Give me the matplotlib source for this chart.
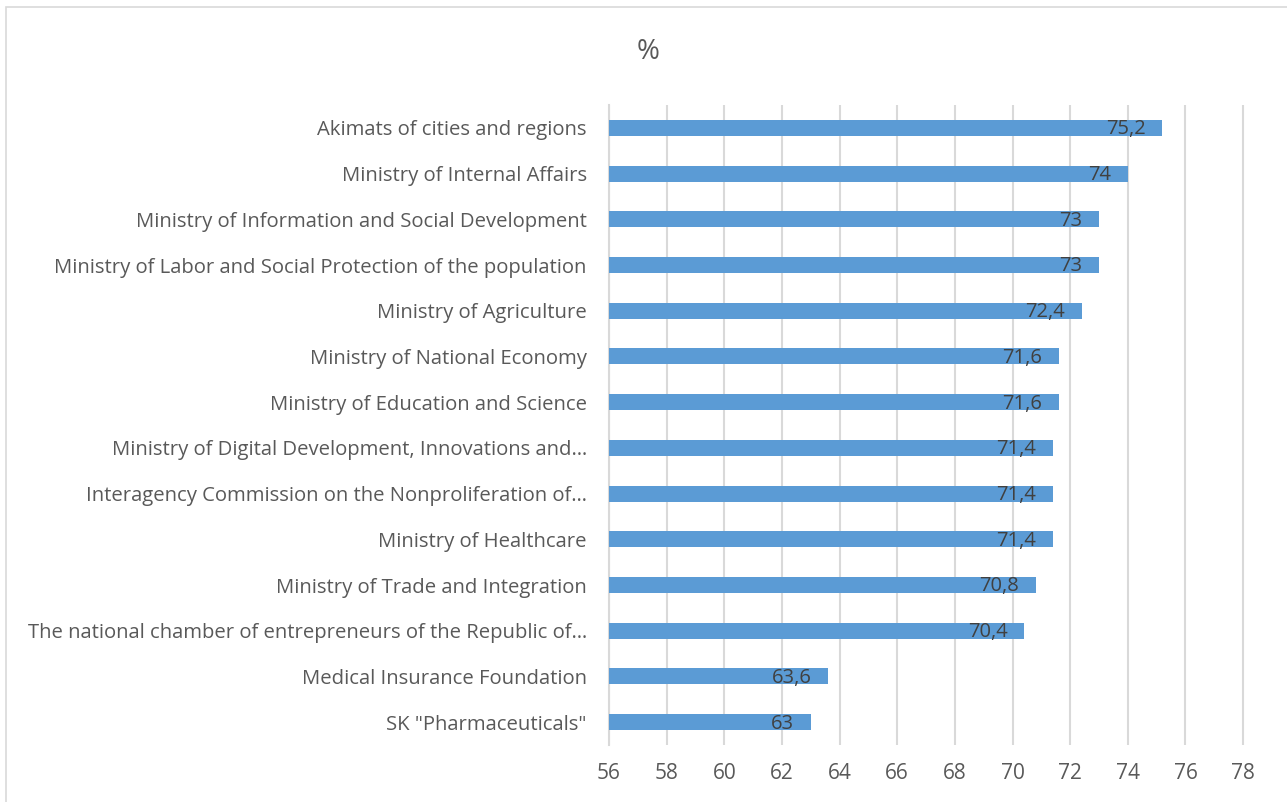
import matplotlib
matplotlib.use("Agg")
import matplotlib.pyplot as plt
from matplotlib.patches import Rectangle

categories = [
    "Akimats of cities and regions",
    "Ministry of Internal Affairs",
    "Ministry of Information and Social Development",
    "Ministry of Labor and Social Protection of the population",
    "Ministry of Agriculture",
    "Ministry of National Economy",
    "Ministry of Education and Science",
    "Ministry of Digital Development, Innovations and\u2026",
    "Interagency Commission on the Nonproliferation of\u2026",
    "Ministry of Healthcare",
    "Ministry of Trade and Integration",
    "The national chamber of entrepreneurs of the Republic of\u2026",
    "Medical Insurance Foundation",
    'SK "Pharmaceuticals"',
]
values = [75.2, 74, 73, 73, 72.4, 71.6, 71.6, 71.4, 71.4, 71.4, 70.8, 70.4, 63.6, 63]
xticks = list(range(56, 79, 2))

plt.rcParams['font.family'] = ['Open Sans', 'DejaVu Sans']

fig = plt.figure(figsize=(12.87, 8.02), dpi=100)
# chart border
fig.patches.append(Rectangle((6 / 1287, -0.01), 1.02, 1 - 7 / 802 + 0.01,
                             transform=fig.transFigure, fill=False,
                             edgecolor="#d9d9d9", linewidth=1.2))

ax = fig.add_axes([609 / 1287, 57 / 802, 637 / 1287, 640 / 802])
ypos = list(range(len(categories)))
ax.barh(ypos, [v - 56 for v in values], left=56, height=0.35, color="#5b9bd5", zorder=3)

for y, v in zip(ypos, values):
    ax.annotate(f"{v:g}".replace(".", ","), xy=(v, y), xytext=(-12, -1),
                textcoords="offset points", ha="right", va="center",
                fontsize=14.5, color="#404040", zorder=4)

ax.set_xlim(56, 78.1)
ax.set_ylim(len(categories) - 0.5, -0.5)
ax.set_xticks(xticks)
ax.set_yticks(ypos)
ax.set_yticklabels(categories)
ax.tick_params(axis="both", length=0, colors="#595959", labelsize=15)
ax.tick_params(axis="y", pad=16, labelsize=14.6)
ax.tick_params(axis="x", pad=13)
ax.grid(axis="x", color="#d9d9d9", linewidth=1.5, zorder=0)
for s in ["top", "right", "bottom"]:
    ax.spines[s].set_visible(False)
ax.spines["left"].set_color("#d9d9d9")
ax.spines["left"].set_linewidth(1.5)

fig.text(648 / 1287, 1 - 52 / 802, "%", ha="center", va="center",
         fontsize=20, color="#595959")

fig.savefig("out.png", dpi=100)
